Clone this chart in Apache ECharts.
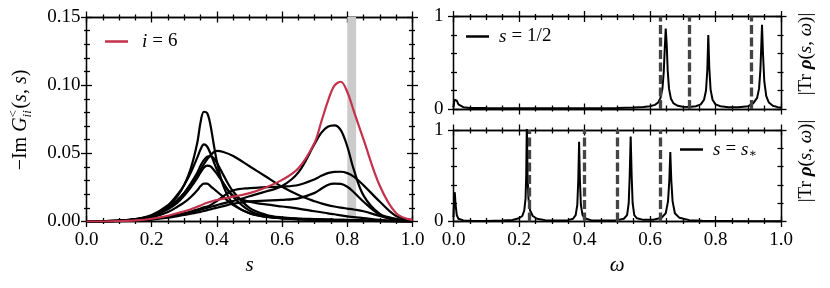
<!DOCTYPE html>
<html><head><meta charset="utf-8">
<script src="https://cdn.jsdelivr.net/npm/echarts@6/dist/echarts.min.js"></script>
<style>html,body{margin:0;padding:0;background:#fff}#c{width:830px;height:288px}</style>
</head><body><div id="c"></div>
<script>
const FONT = "'Liberation Serif','DejaVu Serif',serif";

// ---- left panel: -Im G^<_ii(s,s) vs s ----
const sGrid = [0,0.05,0.1,0.15,0.2,0.25,0.28,0.3,0.32,0.34,0.35,0.36,0.37,0.38,0.39,0.4,0.42,0.45,0.5,0.55,0.6,0.65,0.7,0.72,0.74,0.76,0.78,0.8,0.82,0.85,0.9,0.95,1.0];
const curveA = [0,0.0002,0.0006,0.0016,0.0042,0.011,0.019,0.027,0.039,0.058,0.073,0.0805,0.0795,0.071,0.057,0.044,0.026,0.013,0.006,0.0035,0.0025,0.002,0.0016,0.0015,0.0014,0.0013,0.0012,0.0011,0.001,0.0008,0.0005,0.0002,0];
const curveB = [0,0.0002,0.0007,0.0018,0.0048,0.012,0.020,0.027,0.036,0.047,0.053,0.0565,0.055,0.050,0.044,0.038,0.028,0.019,0.0145,0.0125,0.011,0.0095,0.0075,0.0068,0.006,0.0053,0.0045,0.0038,0.0032,0.0025,0.0012,0.0005,0.0001];
const curveC = [0,0.0002,0.0006,0.0016,0.0042,0.010,0.016,0.021,0.028,0.036,0.041,0.045,0.0475,0.048,0.0465,0.043,0.034,0.022,0.010,0.005,0.003,0.0022,0.0017,0.0015,0.0014,0.0013,0.0012,0.0011,0.001,0.0008,0.0005,0.0002,0];
const curveD = [0,0.0002,0.0006,0.0015,0.0038,0.009,0.014,0.019,0.025,0.032,0.036,0.0395,0.041,0.0405,0.038,0.035,0.028,0.018,0.008,0.004,0.0025,0.0018,0.0014,0.0013,0.0012,0.0011,0.001,0.0009,0.0008,0.0006,0.0004,0.0001,0];
const curveE = [0,0.0002,0.0005,0.0012,0.003,0.007,0.011,0.014,0.018,0.023,0.026,0.0278,0.0278,0.026,0.024,0.022,0.018,0.012,0.006,0.0035,0.0022,0.0016,0.0012,0.0011,0.001,0.0009,0.0008,0.0007,0.0006,0.0005,0.0003,0.0001,0];
const curveF = [0,0.0002,0.0006,0.0015,0.004,0.010,0.016,0.021,0.027,0.034,0.038,0.042,0.0455,0.0485,0.0508,0.0518,0.051,0.048,0.0405,0.033,0.0255,0.0195,0.0148,0.0133,0.012,0.011,0.0102,0.0095,0.0088,0.0075,0.004,0.001,0.0001];
const curveG = [0,0,0.0003,0.0008,0.0018,0.0035,0.0048,0.0058,0.0068,0.008,0.0087,0.0094,0.01,0.0107,0.0113,0.012,0.0133,0.015,0.0185,0.022,0.026,0.036,0.057,0.065,0.0695,0.0705,0.067,0.055,0.038,0.019,0.0055,0.002,0.0005];
const curveH = [0,0,0.0003,0.0008,0.0018,0.0035,0.005,0.006,0.0073,0.0088,0.0096,0.0105,0.011,0.012,0.0135,0.015,0.0185,0.0228,0.0245,0.0252,0.0256,0.0268,0.031,0.0335,0.0355,0.0364,0.0365,0.0355,0.033,0.0265,0.0145,0.004,0.001];
const curveI = [0,0,0.0002,0.0006,0.0014,0.0028,0.004,0.0048,0.0057,0.0066,0.0071,0.0077,0.0083,0.0089,0.0095,0.0101,0.0113,0.013,0.0148,0.0153,0.0158,0.017,0.021,0.024,0.0268,0.0278,0.0276,0.0255,0.0215,0.0145,0.005,0.0015,0.0003];
const redCurve = [0,0,0.0003,0.0008,0.002,0.0042,0.0062,0.0075,0.009,0.0108,0.0118,0.0128,0.0137,0.0145,0.0152,0.0158,0.0168,0.0182,0.0208,0.025,0.0305,0.039,0.058,0.073,0.088,0.0995,0.1025,0.095,0.081,0.06,0.026,0.006,0.001];
const blackCurves = [curveA, curveB, curveC, curveD, curveE, curveF, curveG, curveH, curveI];
const bandRange = [0.8, 0.827];
const leftXLabels = ['0.0','0.2','0.4','0.6','0.8','1.0'];
const leftYLabels = ['0.00','0.05','0.10','0.15'];

// ---- right panels: |Tr rho(s,omega)| ----
const topOmega = [0,0.003,0.006,0.01,0.015,0.02,0.03,0.05,0.1,0.2,0.3,0.4,0.5,0.55,0.58,0.6,0.615,0.625,0.632,0.638,0.642,0.645,0.648,0.651,0.654,0.658,0.664,0.672,0.685,0.7,0.72,0.74,0.755,0.765,0.771,0.775,0.778,0.781,0.785,0.791,0.8,0.815,0.84,0.87,0.9,0.915,0.927,0.933,0.937,0.94,0.942,0.945,0.949,0.955,0.963,0.975,0.99,1.0];
const topRho = [0.02,0.10,0.11,0.09,0.05,0.03,0.02,0.012,0.01,0.008,0.008,0.009,0.012,0.016,0.022,0.03,0.045,0.07,0.12,0.22,0.40,0.65,0.87,0.70,0.42,0.22,0.11,0.06,0.035,0.025,0.022,0.03,0.05,0.1,0.2,0.42,0.80,0.45,0.21,0.1,0.05,0.03,0.018,0.018,0.03,0.06,0.12,0.22,0.42,0.70,0.91,0.6,0.3,0.14,0.07,0.035,0.02,0.015];
const botOmega = [0,0.002,0.004,0.006,0.01,0.015,0.03,0.06,0.1,0.15,0.18,0.2,0.21,0.216,0.22,0.222,0.224,0.226,0.229,0.234,0.242,0.255,0.28,0.32,0.35,0.365,0.373,0.378,0.381,0.3835,0.386,0.389,0.394,0.4,0.42,0.46,0.5,0.52,0.53,0.535,0.538,0.541,0.544,0.547,0.552,0.56,0.58,0.61,0.635,0.648,0.655,0.659,0.662,0.665,0.669,0.676,0.69,0.72,0.76,0.85,1.0];
const botRho = [0.05,0.25,0.32,0.2,0.07,0.03,0.012,0.006,0.006,0.01,0.017,0.035,0.06,0.12,0.25,0.5,1.1,0.5,0.25,0.12,0.06,0.03,0.015,0.01,0.015,0.03,0.07,0.18,0.45,0.87,0.45,0.18,0.07,0.035,0.015,0.01,0.015,0.03,0.07,0.2,0.5,0.93,0.5,0.2,0.07,0.035,0.018,0.02,0.04,0.09,0.22,0.45,0.76,0.45,0.22,0.09,0.04,0.015,0.008,0.005,0.004];
const topDashes = [0.629, 0.725, 0.907];
const botDashes = [0.229, 0.402, 0.4985, 0.626];
const rightXLabels = ['0.0','0.2','0.4','0.6','0.8','1.0'];
const rightYLabels = ['0','1'];

const chart = echarts.init(document.getElementById('c'), null, {renderer:'canvas'});
const AX = {color:'#000', width:1.3};

function axisSet(dim, grid, cfg) {
  const posA = dim === 'x' ? 'bottom' : 'left';
  const posB = dim === 'x' ? 'top' : 'right';
  const mk = (pos, inside, withLabels) => {
    const a = {
      type:'value', gridIndex:grid, position:pos, min:cfg.min, max:cfg.max, interval:cfg.interval,
      splitLine:{show:false}, minorSplitLine:{show:false},
      axisLine:{show:true, onZero:false, lineStyle:AX},
      axisTick:{show:true, inside:inside, length:5.5, lineStyle:AX},
      minorTick:{show:true, splitNumber:cfg.minorSplit, length: inside ? 3.5 : 2.5, lineStyle:AX},
      axisLabel:{show:false}
    };
    if (withLabels && cfg.labels) {
      a.axisLabel = {show:true, margin:cfg.labelMargin, color:'#000', fontFamily:FONT, fontSize:19,
        formatter: v => cfg.labels[Math.round((v - cfg.min) / cfg.interval)]};
    }
    if (withLabels && cfg.name) {
      a.name = cfg.name; a.nameLocation = 'middle'; a.nameGap = cfg.nameGap;
      a.nameTextStyle = {fontFamily:FONT, fontSize:21, fontStyle:'italic', color:'#000'};
    }
    return a;
  };
  return [mk(posA, false, true), mk(posA, true, false), mk(posB, true, false), mk(posB, false, false)];
}

const xAxes = [].concat(
  axisSet('x', 0, {min:0, max:1, interval:0.2, minorSplit:4, labels:leftXLabels, labelMargin:9, name:'s', nameGap:33}),
  axisSet('x', 1, {min:0, max:1, interval:0.2, minorSplit:4, labels:null}),
  axisSet('x', 2, {min:0, max:1, interval:0.2, minorSplit:4, labels:rightXLabels, labelMargin:9, name:'ω', nameGap:33})
);
const yAxes = [].concat(
  axisSet('y', 0, {min:0, max:0.15, interval:0.05, minorSplit:5, labels:leftYLabels, labelMargin:6}),
  axisSet('y', 1, {min:0, max:1, interval:1, minorSplit:5, labels:rightYLabels, labelMargin:10}),
  axisSet('y', 2, {min:0, max:1, interval:1, minorSplit:5, labels:rightYLabels, labelMargin:10})
);

const series = [];
series.push({type:'line', name:'band', xAxisIndex:0, yAxisIndex:0, data:[], z:1, silent:true,
  markArea:{silent:true, itemStyle:{color:'#cbcbcb'}, data:[[{xAxis:bandRange[0]},{xAxis:bandRange[1]}]]}});
blackCurves.forEach((c, k) => series.push({
  type:'line', name:'bk'+k, xAxisIndex:0, yAxisIndex:0, smooth:0.35, symbol:'none', z:3,
  color:'#000', lineStyle:{color:'#000', width:2.2},
  data: sGrid.map((s, j) => [s, c[j]])
}));
series.push({type:'line', name:'i6', xAxisIndex:0, yAxisIndex:0, smooth:0.35, symbol:'none', z:4,
  color:'#c4314b', lineStyle:{color:'#c4314b', width:2.2},
  data: sGrid.map((s, j) => [s, redCurve[j]])});

const dashStyle = {color:'#444', width:3.3, type:[9,3.5]};
series.push({type:'line', name:'dashTop', xAxisIndex:4, yAxisIndex:4, data:[], z:2, silent:true,
  markLine:{silent:true, symbol:['none','none'], label:{show:false}, lineStyle:dashStyle,
    data: topDashes.map(v => ({xAxis:v}))}});
series.push({type:'line', name:'half', xAxisIndex:4, yAxisIndex:4, symbol:'none', z:3,
  color:'#000', lineStyle:{color:'#000', width:2},
  data: topOmega.map((w, j) => [w, topRho[j]])});
series.push({type:'line', name:'dashBot', xAxisIndex:8, yAxisIndex:8, data:[], z:2, silent:true,
  markLine:{silent:true, symbol:['none','none'], label:{show:false}, lineStyle:dashStyle,
    data: botDashes.map(v => ({xAxis:v}))}});
series.push({type:'line', name:'star', xAxisIndex:8, yAxisIndex:8, symbol:'none', z:3,
  color:'#000', lineStyle:{color:'#000', width:2},
  data: botOmega.map((w, j) => [w, botRho[j]])});

const legRich = {
  it:{fontFamily:FONT, fontSize:19, fontStyle:'italic', color:'#000'},
  eq:{fontFamily:FONT, fontSize:19, color:'#000', padding:[0,5,0,5]},
  sub:{fontFamily:FONT, fontSize:12, color:'#000', padding:[9,0,0,0]}
};
function legend(name, left, top, text, gap) {
  return {data:[name], left:left, top:top, icon:'rect', itemWidth:23, itemHeight:2.5,
    selectedMode:false, padding:0, formatter:() => text,
    textStyle:{fontFamily:FONT, fontSize:19, color:'#000', padding:[0,0,0,gap], rich:legRich}};
}

// measured layout for the rotated left y-axis title
const ctx = document.createElement('canvas').getContext('2d');
const F = (sz, st) => (st ? st + ' ' : '') + sz + 'px ' + FONT;
const tw = (t, f) => { ctx.font = f; return ctx.measureText(t).width; };
const parts = [
  {t:'−Im ', f:F(20)}, {t:'G', f:F(20,'italic')},
  {stack:true}, {t:'(', f:F(20)}, {t:'s', f:F(20,'italic')}, {t:', ', f:F(20)},
  {t:'s', f:F(20,'italic')}, {t:')', f:F(20)}
];
const supF = F(13), subF = F(13,'italic');
parts.forEach(p => { p.w = p.stack ? Math.max(tw('<', supF), tw('ii', subF)) + 1.5 : tw(p.t, p.f); });
const total = parts.reduce((a, p) => a + p.w, 0);
let cur = -total / 2;
const titleChildren = [];
parts.forEach(p => {
  if (p.stack) {
    titleChildren.push({type:'text', x:cur, y:-7, style:{text:'<', font:supF, fill:'#000', textAlign:'left', textVerticalAlign:'middle'}});
    titleChildren.push({type:'text', x:cur, y:7, style:{text:'ii', font:subF, fill:'#000', textAlign:'left', textVerticalAlign:'middle'}});
  } else {
    titleChildren.push({type:'text', x:cur, y:0, style:{text:p.t, font:p.f, fill:'#000', textAlign:'left', textVerticalAlign:'middle'}});
  }
  cur += p.w;
});

const rhoRich = {
  b:{fontFamily:FONT, fontSize:19, fontWeight:'bold', fontStyle:'italic', color:'#000'},
  i:{fontFamily:FONT, fontSize:19, fontStyle:'italic', color:'#000'}
};
const rhoText = '|Tr {b|ρ}({i|s}, {i|ω})|';

chart.setOption({
  animation:false,
  backgroundColor:'#fff',
  grid:[
    {left:86.5, top:17, width:326, height:204.5, outerBoundsMode:'none', containLabel:false},
    {left:453.5, top:16.5, width:327.5, height:92.5, outerBoundsMode:'none', containLabel:false},
    {left:453.5, top:130, width:327.5, height:91.5, outerBoundsMode:'none', containLabel:false}
  ],
  xAxis:xAxes, yAxis:yAxes, series:series,
  legend:[
    legend('i6', 105, 32, '{it|i}{eq|=}6', 9),
    legend('half', 466, 27, '{it|s}{eq|=}1/2', 5),
    legend('star', 680, 140, '{it|s}{eq|=}{it|s}{sub|∗}', 5)
  ],
  graphic:[
    {type:'group', x:21, y:120, rotation:Math.PI/2, children:titleChildren},
    {type:'text', x:806, y:54, rotation:Math.PI/2, style:{text:rhoText, fontFamily:FONT, fontSize:19, fill:'#000', textAlign:'center', textVerticalAlign:'middle', rich:rhoRich}},
    {type:'text', x:806, y:161, rotation:Math.PI/2, style:{text:rhoText, fontFamily:FONT, fontSize:19, fill:'#000', textAlign:'center', textVerticalAlign:'middle', rich:rhoRich}}
  ]
});
</script>
</body></html>
